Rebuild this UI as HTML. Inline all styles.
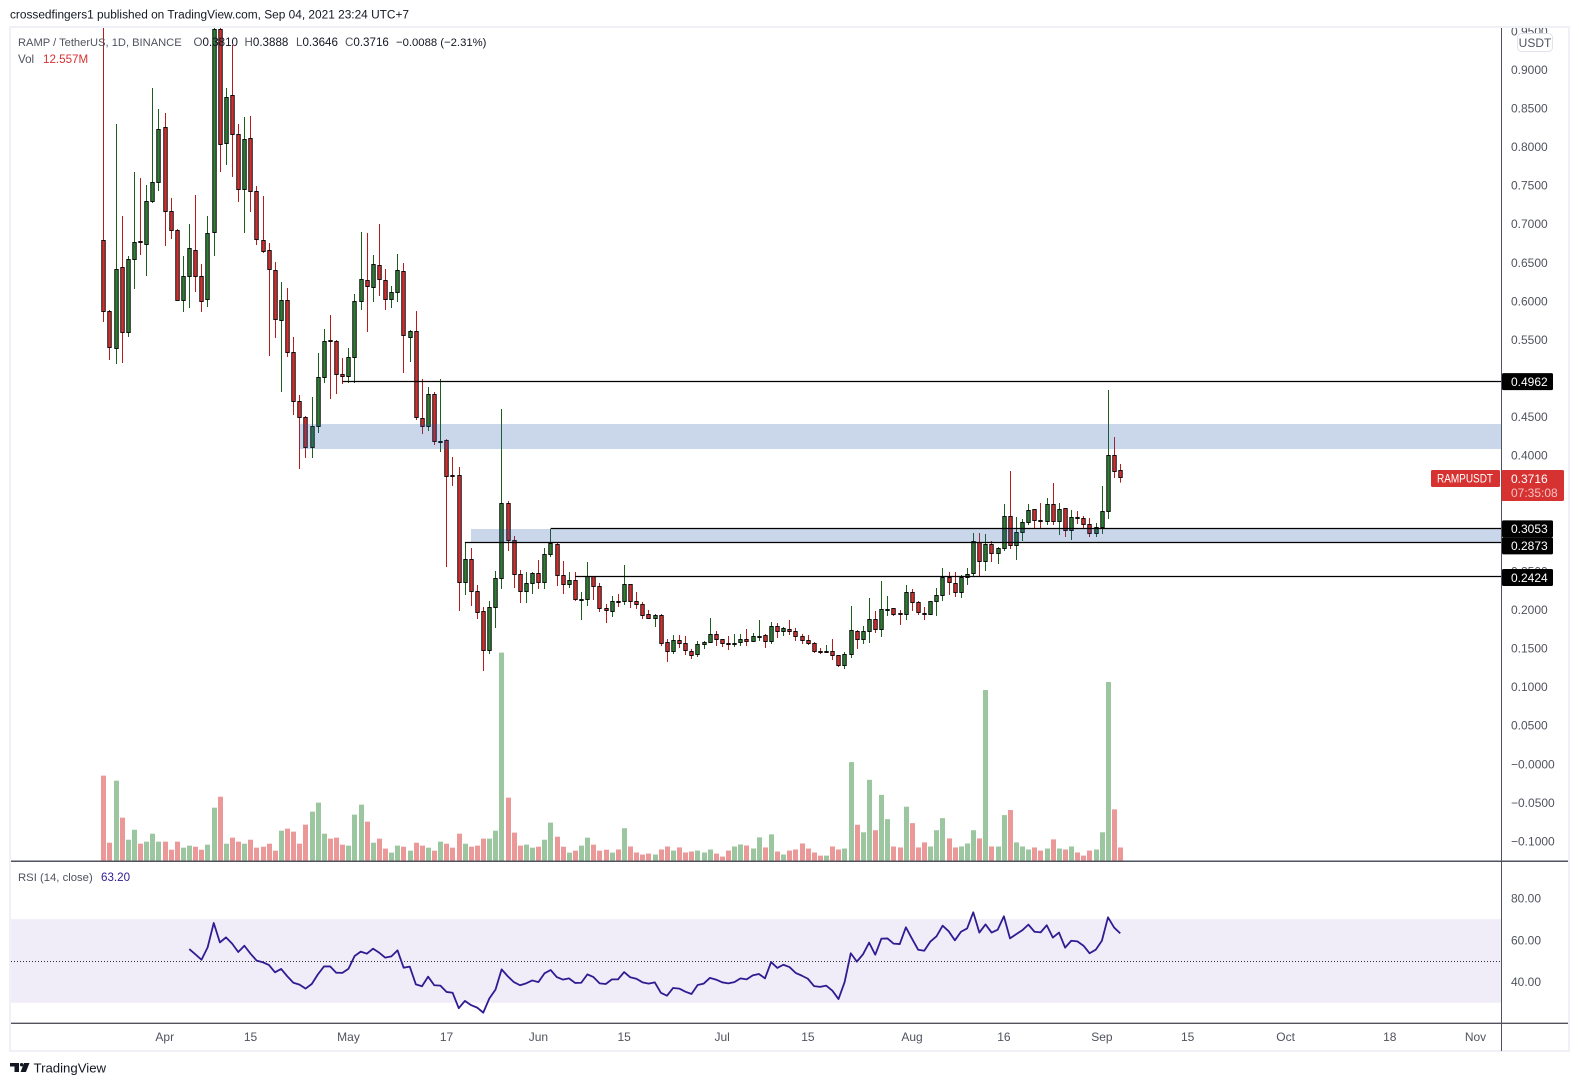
<!DOCTYPE html>
<html lang="en">
<head>
<meta charset="utf-8">
<title>RAMP / TetherUS chart</title>
<style>
html,body{margin:0;padding:0;background:#fff;}
svg{display:block;font-family:"Liberation Sans",sans-serif;}
text{white-space:pre;}
</style>
</head>
<body>
<svg id="chart" width="1579" height="1086" viewBox="0 0 1579 1086" xmlns="http://www.w3.org/2000/svg">
  <defs>
    <clipPath id="main-clip"><rect x="11" y="28" width="1490" height="833"/></clipPath>
    <clipPath id="axis-clip"><rect x="1502" y="28" width="66" height="833"/></clipPath>
  </defs>
  <rect x="0" y="0" width="1579" height="1086" fill="#ffffff"/>
  <text x="10" y="18.5" font-size="11.87" fill="#131722">crossedfingers1 published on TradingView.com, Sep 04, 2021 23:24 UTC+7</text>

  <rect x="10" y="27" width="1559" height="1024" fill="none" stroke="#f0f1f7" stroke-width="2"/>

  <g id="rsi-band-layer"></g>
  <g id="volume-layer" clip-path="url(#main-clip)"></g>
  <g id="candle-layer" clip-path="url(#main-clip)"></g>
  <g id="zone-layer"></g>
  <g id="level-layer"></g>
  <g id="rsi-layer"></g>

  <line x1="11" y1="861.3" x2="1568" y2="861.3" stroke="#50535e" stroke-width="1.5"/>
  <line x1="11" y1="1023.3" x2="1568" y2="1023.3" stroke="#50535e" stroke-width="1.3"/>
  <line x1="1501.5" y1="28" x2="1501.5" y2="1051" stroke="#50535e" stroke-width="1"/>

  <g id="price-axis" clip-path="url(#axis-clip)"></g>
  <g id="rsi-axis"></g>
  <g id="time-axis"></g>
  <g id="level-tags"></g>

  <g>
    <rect x="1431" y="470" width="69" height="17" rx="1.5" fill="#d63232"/>
    <text x="1437" y="482.6" font-size="12" fill="#ffffff" textLength="56" lengthAdjust="spacingAndGlyphs">RAMPUSDT</text>
  </g>
  <g>
    <rect x="1501.5" y="470" width="62.5" height="31" rx="1.5" fill="#d63232"/>
    <text x="1511" y="482.8" font-size="12" fill="#ffffff">0.3716</text>
    <text x="1511" y="497" font-size="12" fill="#f7c1c1">07:35:08</text>
  </g>

  <g>
    <rect x="1517.5" y="33.5" width="35" height="18" rx="4" fill="#ffffff" stroke="#e0e3eb"/>
    <text x="1535" y="46.8" font-size="12" fill="#50535e" text-anchor="middle">USDT</text>
  </g>

  <g font-size="11.6">
    <text x="18" y="46" font-size="11.15" fill="#50535e">RAMP / TetherUS, 1D, BINANCE</text>
    <text x="193.5" y="46" fill="#50535e">O<tspan fill="#131722">0.3810</tspan></text>
    <text x="244.5" y="46" fill="#50535e">H<tspan fill="#131722">0.3888</tspan></text>
    <text x="296" y="46" fill="#50535e">L<tspan fill="#131722">0.3646</tspan></text>
    <text x="345" y="46" fill="#50535e">C<tspan fill="#131722">0.3716</tspan></text>
    <text x="396" y="46" font-size="11.3" fill="#131722">−0.0088 (−2.31%)</text>
    <text x="18" y="63" fill="#50535e">Vol</text>
    <text x="43" y="63" fill="#d63232">12.557M</text>
    <text x="18" y="881" font-size="11.3" fill="#50535e">RSI (14, close)</text>
    <text x="101" y="881" fill="#311b92">63.20</text>
  </g>

  <g>
    <path d="M10 1063h9v9h-4.5v-5.5H10z" fill="#131722"/>
    <circle cx="21.6" cy="1064.7" r="1.7" fill="#131722"/>
    <path d="M24 1063h5.5l-3.6 9h-5.3z" fill="#131722"/>
    <text x="33.5" y="1072.5" font-size="13.2" fill="#131722">TradingView</text>
  </g>
</svg>

<script>
const opens = [.6791,.5858,.5391,.6441,.5586,.6532,.6772,.6739,.7284,.7530,
.8243,.7154,.6908,.6013,.6312,.6661,.6312,.6026,.6882,.9513,
.8048,.8670,.8152,.7452,.8113,.7426,.6791,.6661,.6402,.5754,
.6013,.5327,.4704,.4497,.4108,.4380,.5003,.5489,.5482,.5054,
.5028,.5262,.6000,.6260,.6169,.6467,.6260,.6026,.6117,.6389,
.5521,.5599,.4484,.4380,.4795,.4167,.4199,.3739,.3745,.2346,
.2644,.2242,.1970,.1477,.2022,.2398,.3370,.2903,.2462,.2242,
.2333,.2475,.2346,.2709,.2851,.2449,.2320,.2372,.2119,.2138,
.2424,.2294,.2009,.1970,.2106,.2100,.2320,.2112,.2061,.1944,
.1892,.1931,.1581,.1464,.1607,.1568,.1464,.1413,.1555,.1581,
.1672,.1620,.1562,.1549,.1581,.1620,.1594,.1640,.1659,.1594,
.1788,.1711,.1737,.1711,.1646,.1607,.1568,.1458,.1445,.1464,
.1400,.1283,.1413,.1711,.1620,.1711,.1879,.1737,.1990,.2009,
.1950,.1944,.2229,.2087,.1950,.1944,.2100,.2190,.2411,.2333,
.2229,.2411,.2475,.2877,.2618,.2851,.2722,.2799,.3214,.2838,
.2994,.3136,.3292,.3156,.3149,.3357,.3149,.3305,.3020,.3195,
.3188,.3110,.2981,.3059,.3266,.3992,.3810];
const highs = [.97,.5884,.8294,.7102,.6584,.7672,.7595,.7504,.8761,.8489,
.8437,.7335,.6934,.6584,.6998,.7374,.6480,.7102,.97,.97,
.8761,.9318,.8294,.8385,.8398,.7491,.7361,.6752,.6506,.6247,
.6169,.5534,.4782,.4510,.4756,.5327,.5638,.5819,.5495,.5262,
.5391,.6091,.6895,.6882,.6597,.6998,.6415,.6195,.6610,.6493,
.5625,.5871,.4990,.4886,.4821,.4990,.4210,.3979,.3849,.2877,
.2799,.2320,.2035,.2112,.2501,.4601,.3408,.2955,.2514,.2488,
.2488,.2644,.2799,.3046,.2864,.2631,.2488,.2488,.2229,.2618,
.2436,.2346,.2074,.2177,.2203,.2579,.2320,.2229,.2100,.1996,
.1944,.1944,.1620,.1672,.1672,.1659,.1490,.1594,.1594,.1892,
.1724,.1620,.1659,.1685,.1685,.1750,.1698,.1866,.1685,.1840,
.1827,.1776,.1866,.1763,.1685,.1672,.1581,.1503,.1542,.1620,
.1413,.1452,.2048,.1737,.1788,.2151,.1983,.2372,.2177,.2009,
.1996,.2320,.2268,.2112,.2035,.2112,.2281,.2540,.2488,.2488,
.2449,.2540,.2994,.2994,.2981,.2890,.2812,.3370,.3797,.3201,
.3175,.3370,.3292,.3383,.3447,.3642,.3383,.3318,.3292,.3279,
.3214,.3188,.3123,.3603,.4847,.4238,.3888];
const lows = [.5728,.5236,.5184,.5197,.5534,.6156,.6597,.6324,.7271,.7426,
.6713,.6804,.6013,.5858,.5910,.6117,.5858,.5923,.6584,.7672,
.7763,.7608,.7284,.6882,.7154,.6726,.6623,.5288,.5521,.4821,
.5275,.4523,.3823,.3966,.3966,.4290,.4938,.4730,.4795,.4925,
.4938,.4938,.5884,.5599,.5988,.6065,.5884,.5910,.5988,.5067,
.5210,.4458,.4277,.4316,.4134,.4044,.2553,.3603,.1983,.2190,
.2048,.1879,.1205,.1426,.1763,.2268,.2760,.2281,.2087,.2087,
.2203,.2268,.2268,.2683,.2307,.2203,.2281,.2112,.1866,.2048,
.2125,.1970,.1827,.1905,.2035,.2061,.2022,.2009,.1879,.1892,
.1776,.1529,.1322,.1426,.1503,.1413,.1361,.1387,.1490,.1568,
.1529,.1516,.1477,.1516,.1529,.1529,.1581,.1594,.1503,.1555,
.1633,.1659,.1672,.1594,.1555,.1542,.1439,.1426,.1439,.1348,
.1257,.1231,.1374,.1490,.1555,.1568,.1698,.1646,.1918,.1918,
.1801,.1866,.1983,.1931,.1866,.1931,.1918,.2112,.2190,.2164,
.2151,.2320,.2436,.2436,.2501,.2618,.2592,.2760,.2786,.2644,
.2890,.3097,.3046,.3059,.3097,.3097,.2968,.2942,.2903,.3110,
.3059,.2942,.2942,.2981,.3175,.3707,.3646];
const closes = [.5858,.5404,.6415,.5586,.6532,.6765,.6759,.7296,.7530,.8217,
.7154,.6908,.6013,.6312,.6687,.6324,.6000,.6869,.9513,.8035,
.8644,.8152,.7452,.8100,.7426,.6804,.6636,.6415,.5767,.6013,
.5327,.4704,.4497,.4108,.4380,.5003,.5482,.5476,.5054,.5016,
.5262,.6000,.6273,.6182,.6480,.6273,.6026,.6117,.6402,.5547,
.5599,.4497,.4380,.4795,.4186,.4180,.3732,.3726,.2346,.2644,
.2242,.1957,.1477,.2022,.2398,.3370,.2903,.2462,.2242,.2333,
.2475,.2346,.2709,.2864,.2449,.2320,.2372,.2138,.2132,.2424,
.2294,.2009,.1983,.2112,.2093,.2320,.2112,.2061,.1931,.1892,
.1931,.1568,.1464,.1607,.1568,.1477,.1400,.1555,.1581,.1672,
.1620,.1568,.1549,.1562,.1620,.1594,.1646,.1652,.1594,.1788,
.1711,.1750,.1711,.1646,.1607,.1568,.1464,.1445,.1458,.1400,
.1283,.1413,.1724,.1620,.1711,.1879,.1737,.1996,.2002,.1944,
.1937,.2229,.2087,.1957,.1937,.2100,.2190,.2411,.2346,.2229,
.2411,.2462,.2890,.2618,.2851,.2722,.2799,.3214,.2838,.2994,
.3136,.3279,.3162,.3143,.3357,.3149,.3292,.3020,.3201,.3182,
.3110,.2981,.3059,.3266,.3992,.3797,.3716];
const volumes = [79.4,17,74.7,40.3,19.8,29.1,16.1,18,25.4,18,
18,10.5,18,12.4,14.3,13.3,10.5,15.2,49.6,59.8,
16.1,21.7,18,16.1,19.8,12.4,13.3,16.1,9.6,28.2,
30.1,27.3,16.1,33.8,45.9,54.3,25.4,20.8,21.7,15.2,
14.3,43.1,52.4,36.6,17,20.8,11.5,7.8,14.3,13.3,
9.6,17,14.3,12.4,9.6,18,16.1,12.4,25.4,16.1,
13.3,14.3,20.8,20.8,28.2,193.8,58.9,26.4,14.3,15.2,
12.4,13.3,19.8,35.7,22.6,13.3,7.8,9.6,14.3,21.7,
15.2,9.6,10.5,7.8,10.7,30.5,13.5,7.9,6,6.9,
6,10.7,13.5,9.7,12.6,7.9,8.8,9.7,7.9,10.7,
6.9,4.1,9.7,13.5,15.4,14.4,11.6,22,12.6,24.8,
8.8,6,9.7,10.7,16.3,11.6,7.9,5,5,13.5,
10.7,11.6,92,33.7,26.7,75.5,28.6,61.5,38.9,13.5,
12.6,50.5,35.2,12.6,17.3,13.5,28.6,39.9,21,12.6,
13.5,16.3,28.6,21,159,13.5,13.5,42.7,47.4,17.3,
13.5,10.7,12.6,9.7,11.6,20.1,11.6,10.7,13.5,7.9,
5,9.7,10.7,26.7,166.5,48,12.56];
const rsiValues = [55.7,53.2,50.6,56.5,68.2,58.9,61.3,58.3,54.3,57.3,53.5,50.2,49.4,48.1,44.6,46.2,
42.7,39.6,38.7,36.8,39.0,43.6,47.4,47.4,44.4,44.3,46.3,52.4,54.5,53.5,55.9,54.0,51.6,52.2,55.1,
46.8,47.3,38.8,37.9,42.5,38.4,38.2,35.2,34.8,27.4,30.9,28.9,27.7,25.3,32.1,36.3,46.0,42.7,39.9,
38.4,39.3,40.7,39.9,44.1,45.7,42.3,41.1,41.7,39.5,39.6,43.6,42.3,39.3,39.0,41.2,41.2,44.7,42.2,
41.5,39.8,39.2,39.8,34.8,33.4,37.1,36.8,35.3,34.2,38.5,39.2,41.9,41.1,39.8,39.3,39.9,41.7,41.2,
43.1,43.8,41.7,49.5,46.7,48.2,47.1,44.3,43.0,41.5,38.0,37.6,38.2,35.8,31.8,39.9,53.7,49.7,53.2,
58.8,53.0,60.7,60.8,58.3,58.1,66.1,60.7,55.4,54.9,59.3,61.8,66.9,64.2,59.9,64.0,65.6,73.3,63.6,
67.5,63.6,65.0,71.4,60.8,62.8,64.7,67.4,64.0,63.7,67.1,61.2,63.6,56.4,59.7,59.4,57.3,53.7,55.4,
59.7,70.9,66.0,63.2];
const priceTicks = [0.95,0.9,0.85,0.8,0.75,0.7,0.65,0.6,0.55,0.5,0.45,0.4,0.35,0.3,0.25,0.2,0.15,0.1,0.05,0,-0.05,-0.1];
const rsiTicks = [80,60,40];
const rsiBand = [70,30];
const rsiMiddle = 50;
const timeLabels = ['Apr','15','May','17','Jun','15','Jul','15','Aug','16','Sep','15','Oct','18','Nov'];
const timeBarIndex = [10,24,40,56,71,85,101,115,132,147,163,177,193,210,224];
const levelPrices = [0.4962,0.3053,0.2873,0.2424];
const levelStartBar = [39,73,59,77];
const zoneTops = [0.4406,0.3046];
const zoneBottoms = [0.4082,0.2877];
const zoneStartBar = [32,60];

const NS = 'http://www.w3.org/2000/svg';
function xBar(i){ return 103.5 + 6.125 * i; }
function xSnap(i){ return Math.floor(xBar(i) + 0.25) + 0.5; }
function yPrice(p){ return 764 - 771.6 * p; }
function yVolume(v){ return 861 - v / 0.93; }
function yRsi(v){ return 961 - (v - 50) * 2.09; }
function crisp(y){ return Math.floor(y) + 0.5; }
function mk(tag, parent){ const el = document.createElementNS(NS, tag); parent.appendChild(el); return el; }
function layer(id){ return document.getElementById(id); }
function setLine(el, x1, y1, x2, y2){
  el.setAttribute('x1', x1); el.setAttribute('y1', y1);
  el.setAttribute('x2', x2); el.setAttribute('y2', y2);
}
function setRect(el, x, y, w, h){
  el.setAttribute('x', x); el.setAttribute('y', y);
  el.setAttribute('width', w); el.setAttribute('height', h);
}

/* volume bars */
volumes.forEach(function(v, i){
  const bar = mk('rect', layer('volume-layer'));
  
  
  const top = yVolume(v);
  setRect(bar, xSnap(i) - 2.5, top, 5, 861 - top);
  bar.setAttribute('fill', closes[i] >= opens[i] ? '#9cc69f' : '#ea9898');
});

/* candles */
opens.forEach(function(o, i){
  const c = closes[i], up = c >= o, x = xSnap(i);
  const g = mk('g', layer('candle-layer'));
  
  
  const wick = mk('line', g);
  
  
  setLine(wick, x, yPrice(highs[i]), x, yPrice(lows[i]));
  wick.setAttribute('stroke', up ? '#1b5e20' : '#b71c1c');
  wick.setAttribute('stroke-width', '1');
  const body = mk('rect', g);
  
  
  const yTop = crisp(yPrice(Math.max(o, c))), yBot = crisp(yPrice(Math.min(o, c)));
  setRect(body, x - 1.75, yTop, 3.5, Math.max(yBot - yTop, 0.8));
  body.setAttribute('fill', up ? '#2e7d32' : '#d32f2f');
  body.setAttribute('stroke', '#000000');
  body.setAttribute('stroke-width', '0.9');
});

/* blue zones */
zoneTops.forEach(function(t, i){
  const z = mk('rect', layer('zone-layer'));
  
  
  const x = xBar(zoneStartBar[i]);
  setRect(z, x, yPrice(t), 1501 - x, yPrice(zoneBottoms[i]) - yPrice(t));
  z.setAttribute('fill', 'rgba(33,85,165,0.24)');
});

/* horizontal level lines */
levelPrices.forEach(function(p, i){
  const l = mk('line', layer('level-layer'));
  
  
  setLine(l, xBar(levelStartBar[i]), crisp(yPrice(p)), 1501, crisp(yPrice(p)));
  l.setAttribute('stroke', '#000000');
  l.setAttribute('stroke-width', '1.2');
});

/* price axis labels */
priceTicks.forEach(function(v){
  const t = mk('text', layer('price-axis'));
  
  
  t.setAttribute('x', 1511);
  t.setAttribute('y', yPrice(v) + 4.3);
  t.setAttribute('font-size', '12');
  t.setAttribute('fill', '#50535e');
  t.textContent = (v <= 0 ? '−' : '') + Math.abs(v).toFixed(4);
});

/* level price tags */
let lastTagY = -100;
levelPrices.forEach(function(p){
  let yc = yPrice(p) + 0.5;
  if (yc < lastTagY + 17) yc = lastTagY + 17;
  lastTagY = yc;
  const g = mk('g', layer('level-tags'));
  
  
  const r = mk('rect', g);
  
  
  setRect(r, 1502, yc - 8.5, 51, 17);
  r.setAttribute('rx', '1.5');
  r.setAttribute('fill', '#000000');
  const t = mk('text', g);
  
  
  t.setAttribute('x', 1511);
  t.setAttribute('y', yc + 4.3);
  t.setAttribute('font-size', '12');
  t.setAttribute('fill', '#ffffff');
  t.textContent = p.toFixed(4);
});

/* RSI pane */
const band = mk('rect', layer('rsi-band-layer'));


setRect(band, 11, yRsi(rsiBand[0]), 1490, yRsi(rsiBand[1]) - yRsi(rsiBand[0]));
band.setAttribute('fill', '#f0edf8');
const mid = mk('line', layer('rsi-band-layer'));


setLine(mid, 11, crisp(yRsi(rsiMiddle)), 1501, crisp(yRsi(rsiMiddle)));
mid.setAttribute('stroke', '#333333');
mid.setAttribute('stroke-width', '1');
mid.setAttribute('stroke-dasharray', '1 2');

const rsiStart = closes.length - rsiValues.length;
const rsiLine = mk('polyline', layer('rsi-layer'));


rsiLine.setAttribute('points', rsiValues.map(function(v, i){
  return xBar(rsiStart + i).toFixed(2) + ',' + yRsi(v).toFixed(2);
}).join(' '));
rsiLine.setAttribute('fill', 'none');
rsiLine.setAttribute('stroke', '#311b92');
rsiLine.setAttribute('stroke-width', '1.8');
rsiLine.setAttribute('stroke-linejoin', 'round');

rsiTicks.forEach(function(v){
  const t = mk('text', layer('rsi-axis'));
  
  
  t.setAttribute('x', 1511);
  t.setAttribute('y', yRsi(v) + 4.3);
  t.setAttribute('font-size', '12');
  t.setAttribute('fill', '#50535e');
  t.textContent = v.toFixed(2);
});

/* time axis */
timeLabels.forEach(function(s, i){
  const t = mk('text', layer('time-axis'));
  
  
  t.setAttribute('x', xBar(timeBarIndex[i]));
  t.setAttribute('y', 1041);
  t.setAttribute('font-size', '12');
  t.setAttribute('text-anchor', 'middle');
  t.setAttribute('fill', '#50535e');
  t.textContent = s;
});
</script>
</body>
</html>
